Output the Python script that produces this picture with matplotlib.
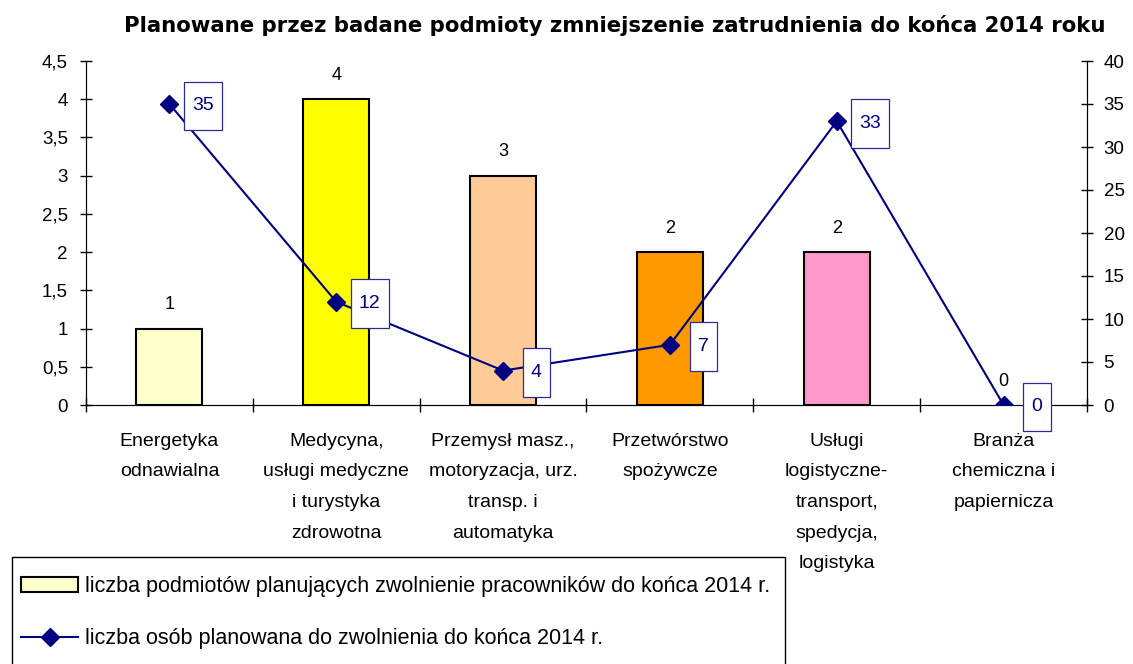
import numpy as np
import matplotlib
matplotlib.use("Agg")
from matplotlib import pyplot as plt
from matplotlib.ticker import FuncFormatter, FixedLocator
from matplotlib.path import Path
from matplotlib.patches import Rectangle

plt.rcParams['font.family'] = ['Liberation Sans', 'DejaVu Sans']

categories = [
    "Energetyka\nodnawialna",
    "Medycyna,\nusługi medyczne\ni turystyka\nzdrowotna",
    "Przemysł masz.,\nmotoryzacja, urz.\ntransp. i\nautomatyka",
    "Przetwórstwo\nspożywcze",
    "Usługi\nlogistyczne-\ntransport,\nspedycja,\nlogistyka",
    "Branża\nchemiczna i\npapiernicza",
]
firms = [1, 4, 3, 2, 2, 0]
people = [35, 12, 4, 7, 33, 0]
bar_colors = ["#FFFFCC", "#FFFF00", "#FFCC99", "#FF9900", "#FF99CC", "#FFFFFF"]

title = "Planowane przez badane podmioty zmniejszenie zatrudnienia do końca 2014 roku"
label_firms = "liczba podmiotów planujących zwolnienie pracowników do końca 2014 r."
label_people = "liczba osób planowana do zwolnienia do końca 2014 r."

navy = "#000080"
W, H = 1133, 664


def tall_box(x0, y0, width, height, mutation_size):
    # label frame: narrow side padding, tall top/bottom padding
    px = 0.42 * mutation_size
    py = 0.82 * mutation_size
    x0, y0 = x0 - px, y0 - py
    x1, y1 = x0 + width + 2 * px, y0 + height + 2 * py
    return Path([(x0, y0), (x1, y0), (x1, y1), (x0, y1), (x0, y0)], closed=True)


fig = plt.figure(figsize=(W / 100, H / 100), dpi=100)
ax = fig.add_axes([86 / W, 1 - 405 / H, 1001 / W, 344 / H])
ax2 = ax.twinx()

x = np.arange(len(categories))
lw = [1.5 if v > 0 else 0 for v in firms]
bars = ax.bar(x, firms, width=0.396, color=bar_colors, edgecolor="black", linewidth=lw, zorder=2)
for xi, v in zip(x, firms):
    ax.annotate(str(v), (xi, v), xytext=(0, 11), textcoords="offset points",
                ha="center", va="bottom", fontsize=13)

ax.set_xlim(-0.5, len(categories) - 0.5)
ax.set_ylim(0, 4.5)
ax.set_yticks(np.arange(0, 4.51, 0.5))
ax.yaxis.set_major_formatter(FuncFormatter(lambda v, p: ("%g" % v).replace(".", ",")))
ax.set_xticks(np.arange(-0.5, len(categories), 1.0))
ax.set_xticklabels([])
ax.xaxis.set_minor_locator(FixedLocator(x))
ax.set_xticklabels(categories, minor=True, fontsize=14, linespacing=2.05, va="top")
ax.tick_params(axis="x", which="major", direction="inout", length=10, width=1)
ax.tick_params(axis="x", which="minor", length=0, pad=20)
ax.tick_params(axis="y", direction="inout", length=8, width=1, labelsize=13.5, pad=9)
ax.spines["top"].set_visible(False)

ax2.plot(x, people, color=navy, linewidth=1.5, marker="D", markersize=9, zorder=3)
for xi, v in zip(x, people):
    ax2.annotate(str(v), (xi, v), xytext=(24, -1.4), textcoords="offset points",
                 ha="center", va="center", fontsize=14, color=navy,
                 bbox=dict(boxstyle=tall_box, fc="white", ec="#2a2a9a", lw=0.9))
ax2.set_ylim(0, 40)
ax2.set_yticks(np.arange(0, 41, 5))
ax2.tick_params(axis="y", direction="inout", length=8, width=1, labelsize=13.5, pad=8)
ax2.spines["top"].set_visible(False)
ax.set_zorder(1)
ax2.set_zorder(2)
ax2.patch.set_visible(False)

fig.text(615 / W, 1 - 32 / H, title, ha="center", va="baseline", fontsize=15.3,
         fontweight="bold", family="DejaVu Sans")

# legend frame runs off the bottom edge like in the original
fig.add_artist(Rectangle((12 / W, -0.05), (785 - 12) / W, 1 - 557 / H + 0.05,
                         transform=fig.transFigure, fill=False, ec="black", lw=1))
handles = [bars[0], ax2.lines[0]]
leg = fig.legend(handles, [label_firms, label_people], loc="upper left",
                 bbox_to_anchor=(21 / W, 1 - 576 / H), bbox_transform=fig.transFigure,
                 fontsize=15.5, frameon=False, labelspacing=1.45,
                 handlelength=2.65, handleheight=0.65, handletextpad=0.3,
                 borderpad=0, borderaxespad=0)

fig.savefig("out.png", dpi=100)
